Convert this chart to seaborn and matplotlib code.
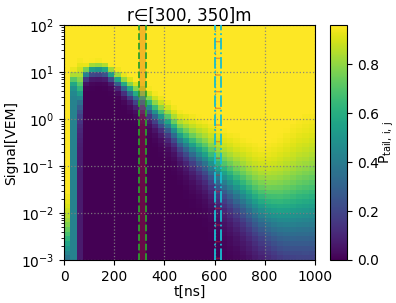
import numpy as np
import matplotlib
matplotlib.use("Agg")
import matplotlib.pyplot as plt
import seaborn as sns

sns.reset_orig()
plt.rcParams['font.family'] = ['DejaVu Sans']

# time bins [ns] and log10(signal) bins
t_edges = np.arange(0, 1001, 25)
logS_edges = np.linspace(-3, 2, 51)

# per time-column: log10 signal of 50% transition, transition width (decades), floor
col_center = [-2.75, 0.85, 0.55, 0.97, 1.04, 1.05, 1.03, 0.94, 0.83, 0.72,
              0.62, 0.51, 0.40, 0.28, 0.16, 0.04, -0.09, -0.23, -0.38, -0.48,
              -0.59, -0.70, -0.80, -0.94, -1.10, -1.22, -1.33, -1.45, -1.56, -1.68,
              -1.80, -1.90, -1.98, -2.02, -2.05, -2.05, -2.03, -2.0, -1.98, -1.95]
col_width = [0.40, 0.10, 0.25, 0.07, 0.07, 0.07, 0.07, 0.07, 0.08, 0.09,
             0.10, 0.11, 0.12, 0.13, 0.14, 0.15, 0.16, 0.17, 0.19, 0.21,
             0.23, 0.25, 0.27, 0.29, 0.31, 0.33, 0.35, 0.37, 0.39, 0.41,
             0.43, 0.45, 0.48, 0.52, 0.56, 0.60, 0.63, 0.66, 0.68, 0.70]
col_floor = [0.0, 0.42, 0.07] + [0.0] * 37

vmax = 0.96
logS_mid = 0.5 * (logS_edges[1:] + logS_edges[:-1])
P = np.zeros((len(logS_mid), len(col_center)))
for j, (c, w, f) in enumerate(zip(col_center, col_width, col_floor)):
    lg = 1.0 / (1.0 + np.exp(-(logS_mid - c) / w))
    P[:, j] = np.clip(f + (1 - f) * lg, 0, vmax)

fig = plt.figure(figsize=(3.96, 3.03), dpi=100)
ax = fig.add_axes([0.162, 0.142, 0.633, 0.775])
cax = fig.add_axes([0.834, 0.142, 0.043, 0.775])

cmap = sns.color_palette("viridis", as_cmap=True)
mesh = ax.pcolormesh(t_edges, 10.0 ** logS_edges, P, cmap=cmap, vmin=0, vmax=vmax,
                     shading="flat", rasterized=True)
ax.set_yscale("log")
ax.set_xlim(0, 1000)
ax.set_ylim(1e-3, 1e2)
ax.set_xticks([0, 200, 400, 600, 800, 1000])

ax.grid(True, which="major", color="gray", linestyle=":", linewidth=0.9, alpha=0.9)

ax.axvspan(300, 325, color="tab:red", alpha=0.25, lw=0, zorder=2)
ax.axvline(300, color="tab:green", ls="--", lw=1.3, zorder=3)
ax.axvline(325, color="tab:green", ls="--", lw=1.3, zorder=3)
ax.axvspan(600, 625, facecolor="none", edgecolor="tab:red", hatch="-", lw=0, alpha=0.4, zorder=2)
ax.axvline(600, color="tab:cyan", ls="-.", lw=1.3, zorder=3)
ax.axvline(625, color="tab:cyan", ls="-.", lw=1.3, zorder=3)

ax.set_xlabel("t[ns]", fontsize=10, labelpad=1)
ax.set_ylabel("Signal[VEM]", fontsize=10, labelpad=2)
ax.set_title("r∈[300, 350]m", fontsize=12, pad=3)
ax.tick_params(labelsize=10)

cb = fig.colorbar(mesh, cax=cax)
cb.set_ticks([0.0, 0.2, 0.4, 0.6, 0.8])
cb.ax.tick_params(labelsize=10)
cb.set_label(r"$\mathrm{P}_{\mathrm{tail,\,i,\,j}}$", fontsize=10, labelpad=-1)

fig.savefig("out.png", dpi=100)
